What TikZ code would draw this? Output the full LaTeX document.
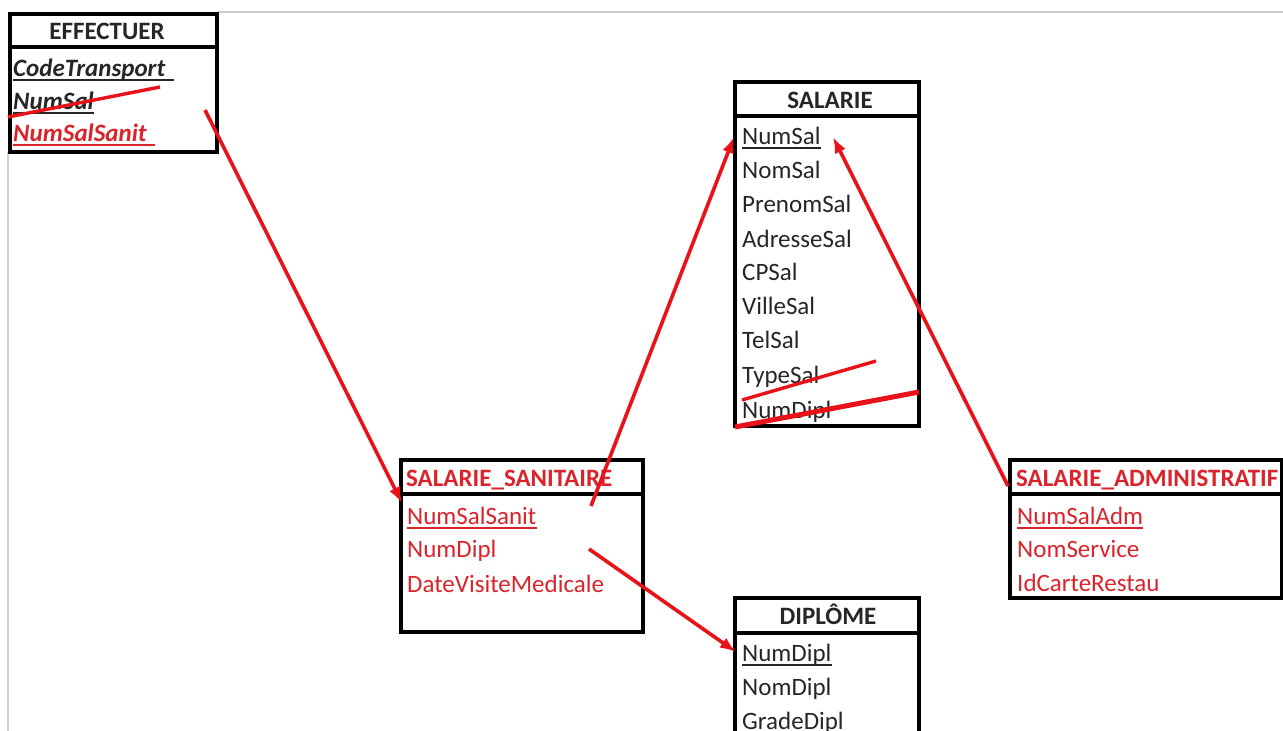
\documentclass[tikz,border=0pt]{standalone}
\usepackage{fontspec}
\setmainfont{Carlito}
\usetikzlibrary{arrows.meta}
\definecolor{txtred}{RGB}{218,36,44}
\definecolor{arrred}{RGB}{232,18,24}
\definecolor{txtblk}{RGB}{38,38,38}
\definecolor{framegray}{RGB}{205,205,205}
\begin{document}
\begin{tikzpicture}[x=1pt,y=-1pt,
  boxline/.style={draw=black,line width=3.2pt},
  tbl/.style={boxline,rectangle,anchor=north west,inner sep=0pt,outer sep=0pt},
  fld/.style={anchor=base west,inner sep=0pt,font=\fontsize{25}{29}\selectfont,text=txtblk},
  hdr/.style={anchor=base,inner sep=0pt,font=\fontsize{25}{29}\selectfont\bfseries,text=txtblk},
  redfld/.style={fld,text=txtred},
  ul/.style={line width=2pt},
  link/.style={draw=arrred,line width=3.6pt,-{Latex[length=16pt,width=12pt]}},
  strike/.style={draw=arrred,line width=3.4pt}]
\useasboundingbox (0,0) rectangle (1283,731);
\fill[white] (0,0) rectangle (1283,731);
% frame
\draw[framegray,line width=1.5pt] (217,12) -- (1283,12);
\draw[framegray,line width=1.5pt] (8,152) -- (8,731);

% EFFECTUER
\node[tbl,minimum width=207pt,minimum height=138pt] (eff) at (10,14) {};
\draw[boxline] (10,47) -- (217,47);
\node[hdr] (effh) at (107,39) {EFFECTUER};
\node[fld,font=\fontsize{25}{29}\selectfont\bfseries\itshape] (e1) at (13,76) {CodeTransport\,\,};
\node[fld,font=\fontsize{25}{29}\selectfont\bfseries\itshape] (e2) at (13,109) {NumSal};
\node[fld,font=\fontsize{25}{29}\selectfont\bfseries\itshape,text=txtred] (e3) at (13,141) {NumSalSanit\,\,};
\draw[ul,txtblk] ([yshift=-4pt]e1.base west) -- ([yshift=-4pt]e1.base east);
\draw[ul,txtblk] ([yshift=-4pt]e2.base west) -- ([yshift=-4pt]e2.base east);
\draw[ul,txtred] ([yshift=-4pt]e3.base west) -- ([yshift=-4pt]e3.base east);

% SALARIE
\node[tbl,minimum width=184pt,minimum height=344pt] (sal) at (735,82) {};
\draw[boxline] (735,116) -- (919,116);
\node[hdr] (salh) at (830,108) {SALARIE};
\node[fld] (s1) at (742,144) {NumSal};
\node[fld] (s2) at (742,178) {NomSal};
\node[fld] (s3) at (742,212) {PrenomSal};
\node[fld] (s4) at (742,247) {AdresseSal};
\node[fld] (s5) at (742,280) {CPSal};
\node[fld] (s6) at (742,314) {VilleSal};
\node[fld] (s7) at (742,348) {TelSal};
\node[fld] (s8) at (742,383) {TypeSal};
\node[fld] (s9) at (742,418) {NumDipl};
\draw[ul,txtblk] ([yshift=-4pt]s1.base west) -- ([yshift=-4pt]s1.base east);

% SALARIE_SANITAIRE
\node[tbl,minimum width=242pt,minimum height=172pt] (san) at (401,460) {};
\draw[boxline] (401,494) -- (643,494);
\node[hdr,anchor=base west,text=txtred] (sanh) at (406,486) {SALARIE\_SANITAIRE};
\node[redfld] (n1) at (407,524) {NumSalSanit};
\node[redfld] (n2) at (407,557) {NumDipl};
\node[redfld] (n3) at (407,592) {DateVisiteMedicale};
\draw[ul,txtred] ([yshift=-4pt]n1.base west) -- ([yshift=-4pt]n1.base east);

% SALARIE_ADMINISTRATIF
\node[tbl,minimum width=272pt,minimum height=138pt] (adm) at (1010,460) {};
\draw[boxline] (1010,494) -- (1282,494);
\node[hdr,anchor=base west,text=txtred] (admh) at (1016,486) {SALARIE\_ADMINISTRATIF};
\node[redfld] (a1) at (1017,524) {NumSalAdm};
\node[redfld] (a2) at (1017,557) {NomService};
\node[redfld] (a3) at (1017,591) {IdCarteRestau};
\draw[ul,txtred] ([yshift=-4pt]a1.base west) -- ([yshift=-4pt]a1.base east);

% DIPLOME
\node[tbl,minimum width=184pt,minimum height=145pt] (dip) at (735,598) {};
\draw[boxline] (735,633) -- (919,633);
\node[hdr] (diph) at (828,624) {DIPLÔME};
\node[fld] (d1) at (742,661) {NumDipl};
\node[fld] (d2) at (742,695) {NomDipl};
\node[fld] (d3) at (742,729) {GradeDipl};
\draw[ul,txtblk] ([yshift=-4pt]d1.base west) -- ([yshift=-4pt]d1.base east);

% strike-throughs
\coordinate (st1a) at (8,117); \coordinate (st1b) at (160,87);
\coordinate (st2a) at (742,400); \coordinate (st2b) at (876,361);
\coordinate (st3a) at (735,427); \coordinate (st3b) at (919,392);
\draw[strike] (st1a) -- (st1b);
\draw[strike] (st2a) -- (st2b);
\draw[strike,line width=5pt] (st3a) -- (st3b);

% links
\coordinate (l1a) at (205,110); \coordinate (l1b) at (402,503);
\coordinate (l2a) at (591,506); \coordinate (l2b) at (734,137);
\coordinate (l3a) at (1008,486); \coordinate (l3b) at (833,137);
\coordinate (l4a) at (589,549); \coordinate (l4b) at (736,652);
\draw[link] (l1a) -- (l1b);
\draw[link] (l2a) -- (l2b);
\draw[link] (l3a) -- (l3b);
\draw[link] (l4a) -- (l4b);
\end{tikzpicture}
\end{document}
